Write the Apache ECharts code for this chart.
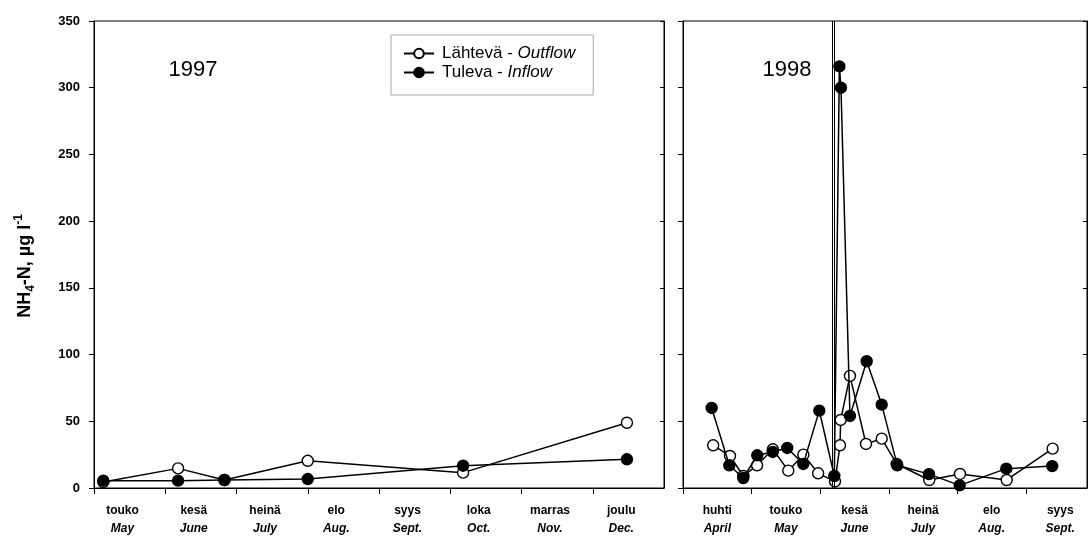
<!DOCTYPE html>
<html>
<head>
<meta charset="utf-8">
<script src="https://cdn.jsdelivr.net/npm/echarts@6/dist/echarts.min.js"></script>
<style>
html,body{margin:0;padding:0;background:#fff;}
#chart{width:1088px;height:545px;}
</style>
</head>
<body>
<div id="chart"></div>
<script>
// ---- data ----
const monthsFi97 = ['touko','kesä','heinä','elo','syys','loka','marras','joulu'];
const monthsEn97 = ['May','June','July','Aug.','Sept.','Oct.','Nov.','Dec.'];
const monthsFi98 = ['huhti','touko','kesä','heinä','elo','syys'];
const monthsEn98 = ['April','May','June','July','Aug.','Sept.'];
const yTicks = [0,50,100,150,200,250,300,350];

// 1997: time in months since 1 May
const x97 = [0.13, 1.18, 1.83, 3.0, 5.18, 7.48];
const out97 = [4.5, 14.7, 6, 20.4, 11.5, 48.9];
const in97 = [5.5, 5.5, 6, 6.7, 16.7, 21.5];

// 1998: time in months since 1 April
const xOut98 = [0.44,0.685,0.88,1.08,1.31,1.535,1.755,1.97,2.216,2.289,2.299,2.434,2.668,2.897,3.115,3.59,4.038,4.719,5.389];
const out98  = [32,24,9,17,29,13,25,11,5,32,51,84,33,37,18,6,10.5,6,29.5];
const xIn98  = [0.418,0.675,0.879,1.083,1.308,1.52,1.754,1.987,2.206,2.28,2.303,2.434,2.678,2.897,3.124,3.586,4.034,4.713,5.383];
const in98   = [60,17,7.5,24.5,27,30,18,58,9,316,300,54,95,62.5,17,10.4,2,14.5,16.4];
const sampleBreak98 = [2.17, 2.205];

const nameOut = 'Lähtevä - Outflow';
const nameIn = 'Tuleva - Inflow';
const yTitle = '{n|NH}{s|4}{n|-N, µg l}{p|-1}';

// ---- chart ----
const FONT = 'Liberation Sans, Arial, sans-serif';
const chart = echarts.init(document.getElementById('chart'));
const pairs = (xs, ys) => xs.map((x, i) => [x, ys[i]]);
const richMonth = {
  a: {fontSize: 12, fontWeight: 'bold', color: '#000', fontFamily: FONT, lineHeight: 18},
  b: {fontSize: 12, fontWeight: 'bold', color: '#000', fontFamily: FONT, fontStyle: 'italic', lineHeight: 18}
};
function monthAxis(grid, fi, en, max, labelShift) {
  const ticks = fi.map((_, i) => i);
  const labels = fi.map((_, i) => i + labelShift);
  return {
    gridIndex: grid, type: 'value', min: 0, max: max,
    axisLine: {show: true, onZero: false, lineStyle: {color: '#000', width: 1}},
    axisTick: {show: true, inside: false, length: 6, customValues: ticks, lineStyle: {color: '#000', width: 1}},
    axisLabel: {
      customValues: labels, margin: 14,
      formatter: function (v) {
        const i = Math.round(v - labelShift);
        if (i < 0 || i >= fi.length) return '';
        return '{a|' + fi[i] + '}\n{b|' + en[i] + '}';
      },
      rich: richMonth
    },
    splitLine: {show: false}
  };
}
function leftY(grid, showLabels) {
  return {
    gridIndex: grid, type: 'value', min: 0, max: 350, interval: 50, position: 'left',
    axisLine: {show: true, lineStyle: {color: '#000', width: 1}},
    axisTick: {show: true, inside: false, length: 5, lineStyle: {color: '#000'}},
    axisLabel: {show: showLabels, margin: 14, fontSize: 13, fontWeight: 'bold', color: '#000', fontFamily: FONT,
      customValues: yTicks},
    splitLine: {show: false}
  };
}
function rightY(grid) {
  return {
    gridIndex: grid, type: 'value', min: 0, max: 350, interval: 50, position: 'right',
    axisLine: {show: true, lineStyle: {color: '#000', width: 1}},
    axisTick: {show: true, inside: true, length: 4, lineStyle: {color: '#000'}},
    axisLabel: {show: false}, splitLine: {show: false}
  };
}
const openStyle = {color: '#fff', borderColor: '#000', borderWidth: 1.4};
const fillStyle = {color: '#000', borderColor: '#000', borderWidth: 1.4};
const lineSt = {color: '#000', width: 1.5};

const option = {
  backgroundColor: '#fff',
  animation: false,
  grid: [
    {left: 94, right: 424, top: 21, bottom: 57, show: true, borderColor: '#000', borderWidth: 1},
    {left: 683, right: 1, top: 21, bottom: 57, show: true, borderColor: '#000', borderWidth: 1}
  ],
  xAxis: [
    monthAxis(0, monthsFi97, monthsEn97, 8, 0.4),
    monthAxis(1, monthsFi98, monthsEn98, 5.89, 0.5)
  ],
  yAxis: [leftY(0, true), rightY(0), leftY(1, false), rightY(1)],
  legend: {
    orient: 'vertical', left: 391, top: 35,
    padding: [10, 18, 14, 12], itemGap: 2,
    itemWidth: 30, itemHeight: 12,
    borderColor: '#aaa', borderWidth: 1, backgroundColor: '#fff',
    data: [nameOut, nameIn],
    formatter: function (name) {
      const p = name.split(' - ');
      return '{a|' + p[0] + ' - }{b|' + p[1] + '}';
    },
    textStyle: {
      rich: {
        a: {fontSize: 17, color: '#000', fontFamily: FONT, padding: [0, 0, 0, 3]},
        b: {fontSize: 17, color: '#000', fontFamily: FONT, fontStyle: 'italic'}
      }
    }
  },
  graphic: [
    {type: 'text', x: 193, y: 70, style: {text: '1997', fontSize: 22, fontFamily: FONT, fill: '#000', align: 'center', verticalAlign: 'middle'}},
    {type: 'text', x: 787, y: 70, style: {text: '1998', fontSize: 22, fontFamily: FONT, fill: '#000', align: 'center', verticalAlign: 'middle'}},
    {type: 'text', x: 25, y: 266, rotation: Math.PI / 2,
      style: {text: yTitle, align: 'center', verticalAlign: 'middle', fill: '#000',
        rich: {
          n: {fontSize: 18, fontWeight: 'bold', fill: '#000', fontFamily: FONT, lineHeight: 24},
          s: {fontSize: 12, fontWeight: 'bold', fill: '#000', fontFamily: FONT, lineHeight: 12, verticalAlign: 'bottom'},
          p: {fontSize: 12, fontWeight: 'bold', fill: '#000', fontFamily: FONT, lineHeight: 12, verticalAlign: 'top'}
        }}}
  ],
  series: [
    {name: nameOut, type: 'line', xAxisIndex: 0, yAxisIndex: 0, data: pairs(x97, out97),
      symbol: 'circle', symbolSize: 11, itemStyle: openStyle, lineStyle: lineSt, z: 3},
    {name: nameIn, type: 'line', xAxisIndex: 0, yAxisIndex: 0, data: pairs(x97, in97),
      symbol: 'circle', symbolSize: 11, itemStyle: fillStyle, lineStyle: lineSt, z: 4},
    {name: nameOut, type: 'line', xAxisIndex: 1, yAxisIndex: 2, data: pairs(xOut98, out98),
      symbol: 'circle', symbolSize: 11, itemStyle: openStyle, lineStyle: lineSt, z: 3,
      markLine: {symbol: 'none', silent: true, label: {show: false},
        lineStyle: {color: '#000', type: 'solid', width: 1},
        data: sampleBreak98.map(v => ({xAxis: v}))}},
    {name: nameIn, type: 'line', xAxisIndex: 1, yAxisIndex: 2, data: pairs(xIn98, in98),
      symbol: 'circle', symbolSize: 11, itemStyle: fillStyle, lineStyle: lineSt, z: 4}
  ]
};
chart.setOption(option);
</script>
</body>
</html>
